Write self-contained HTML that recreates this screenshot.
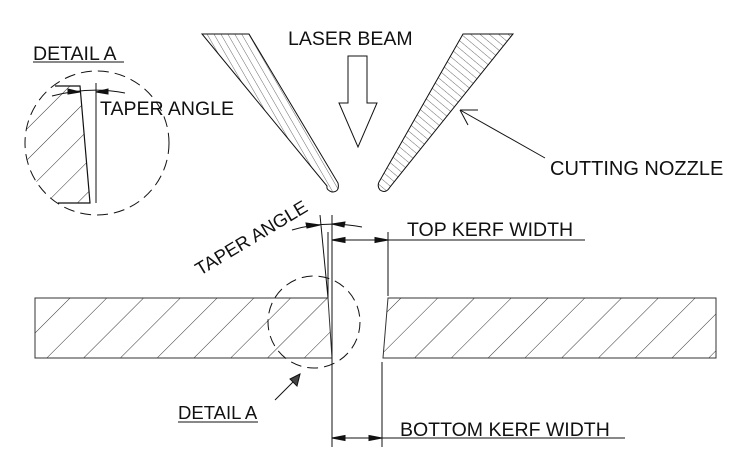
<!DOCTYPE html>
<html><head><style>body{margin:0;background:#fff}svg{display:block}text{font-family:"Liberation Sans",Arial,sans-serif;fill:#111}</style></head><body>
<svg width="748" height="475" viewBox="0 0 748 475">
<defs>
<pattern id="h" patternUnits="userSpaceOnUse" width="26" height="26" patternTransform="rotate(45)"><line x1="0" y1="0" x2="0" y2="26" stroke="#333" stroke-width="1"/></pattern>
<pattern id="h2" patternUnits="userSpaceOnUse" width="22" height="22" patternTransform="rotate(45)"><line x1="0" y1="0" x2="0" y2="22" stroke="#333" stroke-width="1"/></pattern>
<pattern id="n1" patternUnits="userSpaceOnUse" width="6" height="6" patternTransform="rotate(-30)"><line x1="0" y1="0" x2="0" y2="6" stroke="#444" stroke-width="0.8"/></pattern>
<pattern id="n2" patternUnits="userSpaceOnUse" width="6" height="6" patternTransform="rotate(-50)"><line x1="0" y1="0" x2="0" y2="6" stroke="#444" stroke-width="0.8"/></pattern>
<clipPath id="c1"><circle cx="97" cy="143" r="72"/></clipPath>
</defs>
<g stroke="#111" fill="none" stroke-width="1">
<path d="M202,34 L249,34 L338,183 Q340,192 332,192 Q326,190 327,186 Z" fill="url(#n1)"/>
<path d="M463,34 L513,34 L390,187 Q386,194 380,190 Q377,186 379,182 Z" fill="url(#n2)"/>
<path d="M348,56 L367,56 L367,103 L377,103 L358,147 L339,103 L348,103 Z"/>
<line x1="33" y1="62" x2="124" y2="62"/>
<circle cx="97" cy="143" r="72" stroke-dasharray="11,6"/>
<path d="M20,86 L80,86 L90,203 L20,203 Z" fill="url(#h2)" stroke="none" clip-path="url(#c1)"/>
<path d="M55,86 L80,86 L90,203 L58,203" stroke-width="1.2"/>
<line x1="96" y1="83" x2="96" y2="203"/>
<path d="M52,96 Q90,86 125,93"/>
<path d="M80,92 L68,94 L68,89 Z M96,92 L108,89 L108,94 Z" fill="#111"/>
<path d="M35,298 L328,298 L332,358 L35,358 Z" fill="url(#h)" stroke="#333"/>
<path d="M388,298 L716,298 L716,358 L383,358 Z" fill="url(#h)" stroke="#333"/>
<line x1="332" y1="215" x2="332" y2="447"/>
<line x1="328" y1="232" x2="328" y2="298"/>
<line x1="320" y1="215" x2="328" y2="298"/>
<line x1="388" y1="232" x2="388" y2="296"/>
<line x1="382" y1="362" x2="382" y2="447"/>
<line x1="332" y1="240" x2="585" y2="240"/>
<path d="M332,240 L345,237.5 L345,242.5 Z M388,240 L375,237.5 L375,242.5 Z" fill="#111"/>
<line x1="332" y1="438" x2="625" y2="438"/>
<path d="M332,438 L345,435.5 L345,440.5 Z M382,438 L369,435.5 L369,440.5 Z" fill="#111"/>
<path d="M292,230 Q325,220 362,227"/>
<path d="M320,225 L307,228 L306,223 Z M332,224 L345,222 L344,227 Z" fill="#111"/>
<circle cx="314" cy="322" r="46" stroke-dasharray="11,6"/>
<line x1="275" y1="400" x2="295" y2="380"/>
<path d="M300,374 L290,379 L297,386 Z" fill="#444"/>
<line x1="178" y1="422" x2="258" y2="422"/>
<line x1="460" y1="110" x2="545" y2="158"/>
<path d="M460,110 L478,110 M460,110 L468,125"/>
</g>
<text x="288" y="45" font-size="19.5">LASER BEAM</text>
<text x="33" y="60" font-size="19.5">DETAIL A</text>
<text x="100" y="115" font-size="19.5">TAPER ANGLE</text>
<text x="550" y="175" font-size="20">CUTTING NOZZLE</text>
<text x="407" y="236" font-size="19.5">TOP KERF WIDTH</text>
<text x="400" y="436" font-size="19.5">BOTTOM KERF WIDTH</text>
<text x="178" y="419" font-size="18.5">DETAIL A</text>
<text x="0" y="0" font-size="18.5" transform="translate(200,276) rotate(-31)">TAPER ANGLE</text>
</svg>
</body></html>
